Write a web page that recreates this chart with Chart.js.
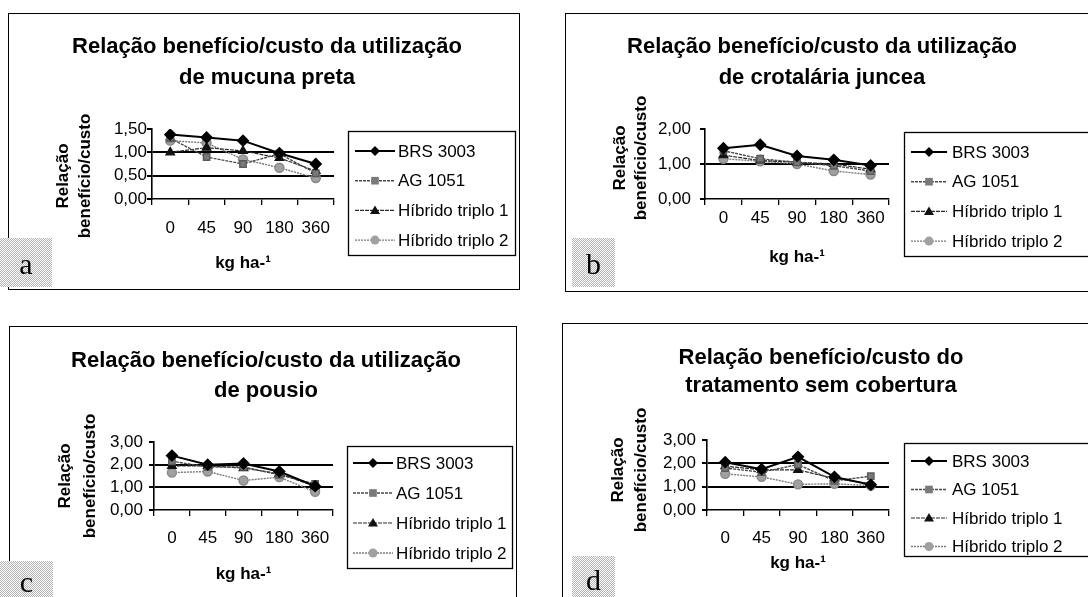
<!DOCTYPE html>
<html lang="pt-BR">
<head>
<meta charset="utf-8">
<title>Relação benefício/custo</title>
<script src="https://cdn.jsdelivr.net/npm/chart.js@4.4.1/dist/chart.umd.min.js"></script>
<style>
  html, body { margin: 0; padding: 0; background: #fff; }
  body { position: relative; width: 1088px; height: 597px; overflow: hidden; }
  .painel { position: absolute; border: 1px solid #000; box-sizing: border-box; }
  .grafico { position: absolute; }
  .letra {
    position: absolute;
    background-image: repeating-conic-gradient(#b4b4b4 0 25%, #fff 0 50%);
    background-size: 2px 2px;
    font-family: "Liberation Serif", "Times New Roman", serif;
    font-size: 30px;
    color: #000;
    display: flex;
    justify-content: center;
    align-items: flex-end;
    padding-bottom: 6px;
    box-sizing: border-box;
  }
</style>
</head>
<body>

<div class="painel" style="left:8px; top:13px; width:512px; height:277px;"></div>
<div class="painel" style="left:565px; top:13px; width:540px; height:279px;"></div>
<div class="painel" style="left:9px; top:326px; width:508px; height:280px;"></div>
<div class="painel" style="left:562px; top:323px; width:545px; height:280px;"></div>

<canvas id="grafico-a" class="grafico" width="510" height="275" style="left:9px; top:14px;"></canvas>
<canvas id="grafico-b" class="grafico" width="538" height="277" style="left:566px; top:14px;"></canvas>
<canvas id="grafico-c" class="grafico" width="506" height="270" style="left:10px; top:327px;"></canvas>
<canvas id="grafico-d" class="grafico" width="541" height="273" style="left:563px; top:324px;"></canvas>

<div class="letra" style="left:0px; top:238px; width:52px; height:49px;">a</div>
<div class="letra" style="left:572px; top:238px; width:43px; height:49px;">b</div>
<div class="letra" style="left:0px; top:561px; width:53px; height:40px; padding-bottom:2px;">c</div>
<div class="letra" style="left:572px; top:556px; width:43px; height:45px; padding-bottom:4px;">d</div>

<script>
// doses de N (kg ha-1)
const doses = ['0', '45', '90', '180', '360'];
const cultivares = ['BRS 3003', 'AG 1051', 'Híbrido triplo 1', 'Híbrido triplo 2'];

// a - mucuna preta
const mucunaBrs = [1.38, 1.32, 1.25, 0.98, 0.75];
const mucunaAg = [1.30, 0.90, 0.75, 0.97, 0.55];
const mucunaH1 = [1.00, 1.10, 1.03, 0.88, 0.60];
const mucunaH2 = [1.25, 1.20, 0.85, 0.67, 0.45];

// b - crotalária juncea
const crotalariaBrs = [1.45, 1.55, 1.23, 1.12, 0.96];
const crotalariaAg = [1.38, 1.15, 1.05, 0.95, 0.80];
const crotalariaH1 = [1.25, 1.10, 1.05, 1.00, 0.85];
const crotalariaH2 = [1.15, 1.08, 1.00, 0.80, 0.70];

// c - pousio
const pousioBrs = [2.40, 2.00, 2.05, 1.70, 1.05];
const pousioAg = [2.15, 1.90, 1.90, 1.55, 1.15];
const pousioH1 = [1.95, 1.95, 1.85, 1.60, 1.05];
const pousioH2 = [1.65, 1.70, 1.30, 1.45, 0.80];

// d - sem cobertura
const semCoberturaBrs = [2.05, 1.75, 2.28, 1.42, 1.08];
const semCoberturaAg = [1.80, 1.62, 1.95, 1.25, 1.45];
const semCoberturaH1 = [1.88, 1.72, 1.72, 1.35, 1.12];
const semCoberturaH2 = [1.55, 1.42, 1.10, 1.12, 1.05];

const FONTE = '"Liberation Sans", Arial, sans-serif';

const estilos = [
    { borderColor: '#000', borderWidth: 2, borderDash: [], pointStyle: 'rectRot', pointRadius: 5, pointBackgroundColor: '#000', pointBorderColor: '#000' },
    { borderColor: '#4a4a4a', borderWidth: 1.4, borderDash: [3, 1], pointStyle: 'rect', pointRadius: 4.5, pointBackgroundColor: '#7a7a7a', pointBorderColor: '#5a5a5a' },
    { borderColor: '#2a2a2a', borderWidth: 1.2, borderDash: [4, 1], pointStyle: 'triangle', pointRadius: 5, pointBackgroundColor: '#111', pointBorderColor: '#111' },
    { borderColor: '#7a7a7a', borderWidth: 1.4, borderDash: [2, 1], pointStyle: 'circle', pointRadius: 4.5, pointBackgroundColor: '#a0a0a0', pointBorderColor: '#888' }
];

function desenharMarcador(ctx, estilo, x, y, r, cor) {
    ctx.save();
    ctx.fillStyle = cor;
    ctx.beginPath();
    if (estilo === 'rectRot') {
        ctx.moveTo(x, y - r); ctx.lineTo(x + r, y); ctx.lineTo(x, y + r); ctx.lineTo(x - r, y);
    } else if (estilo === 'rect') {
        const s = r * 0.85;
        ctx.rect(x - s, y - s, 2 * s, 2 * s);
    } else if (estilo === 'triangle') {
        ctx.moveTo(x, y - r); ctx.lineTo(x + r, y + r * 0.7); ctx.lineTo(x - r, y + r * 0.7);
    } else {
        ctx.arc(x, y, r, 0, Math.PI * 2);
    }
    ctx.closePath();
    ctx.fill();
    ctx.restore();
}

// titulo do eixo y (duas linhas) e caixa de legenda
const extrasPainel = {
    id: 'extrasPainel',
    afterDraw(chart, args, opts) {
        const ctx = chart.ctx;
        ctx.save();
        ctx.fillStyle = '#000';
        ctx.font = 'bold 17px ' + FONTE;
        ctx.textAlign = 'center';
        ctx.textBaseline = 'middle';
        opts.tituloY.forEach((linha, i) => {
            ctx.save();
            ctx.translate(opts.eixoY.x[i], opts.eixoY.y);
            ctx.rotate(-Math.PI / 2);
            ctx.fillText(linha, 0, 0);
            ctx.restore();
        });

        const L = opts.legenda;
        ctx.lineWidth = 1.3;
        ctx.strokeStyle = '#000';
        ctx.strokeRect(L.x + 0.5, L.y + 0.5, L.w, L.h);
        ctx.font = '17px ' + FONTE;
        ctx.textAlign = 'left';
        chart.data.datasets.forEach((ds, i) => {
            const y = L.y + L.primeira + i * L.passo;
            ctx.save();
            ctx.strokeStyle = ds.borderColor;
            ctx.lineWidth = ds.borderWidth;
            ctx.setLineDash(ds.borderDash || []);
            ctx.beginPath();
            ctx.moveTo(L.x + L.linha0, y);
            ctx.lineTo(L.x + L.linha1, y);
            ctx.stroke();
            ctx.restore();
            desenharMarcador(ctx, ds.pointStyle, L.x + (L.linha0 + L.linha1) / 2, y, ds.pointRadius, ds.pointBackgroundColor);
            ctx.fillStyle = '#000';
            ctx.fillText(ds.label, L.x + L.texto, y + 1);
        });
        ctx.restore();
    }
};

const paineis = [
    {
        id: 'grafico-a',
        titulo: ['Relação benefício/custo da utilização', 'de mucuna preta'],
        series: [mucunaBrs, mucunaAg, mucunaH1, mucunaH2],
        yMax: 1.5, passo: 0.5, grades: [0.5, 1],
        area: { l: 143, r: 325, t: 115, b: 185 },
        tituloCx: 258, tituloY1: 33, tituloLh: 31,
        rotuloX: 29, tituloX: 249, vaoY: 5,
        eixoY: { x: [54, 76], y: 162 },
        legenda: { x: 339, y: 117, w: 167, h: 124, primeira: 20, passo: 29.7, linha0: 7, linha1: 47, texto: 50 }
    },
    {
        id: 'grafico-b',
        titulo: ['Relação benefício/custo da utilização', 'de crotalária juncea'],
        series: [crotalariaBrs, crotalariaAg, crotalariaH1, crotalariaH2],
        yMax: 2, passo: 1, grades: [1],
        area: { l: 139, r: 323, t: 115, b: 185 },
        tituloCx: 256, tituloY1: 33, tituloLh: 31,
        rotuloX: 19, tituloX: 243, vaoY: 14,
        eixoY: { x: [54, 75], y: 144 },
        legenda: { x: 338, y: 118, w: 220, h: 124, primeira: 20, passo: 29.7, linha0: 7, linha1: 43, texto: 48 }
    },
    {
        id: 'grafico-c',
        titulo: ['Relação benefício/custo da utilização', 'de pousio'],
        series: [pousioBrs, pousioAg, pousioH1, pousioH2],
        yMax: 3, passo: 1, grades: [1, 2],
        area: { l: 144, r: 323, t: 115, b: 183 },
        tituloCx: 256, tituloY1: 34, tituloLh: 30,
        rotuloX: 28, tituloX: 247, vaoY: 11,
        eixoY: { x: [55, 80], y: 149 },
        legenda: { x: 337, y: 119, w: 165, h: 122, primeira: 17, passo: 30, linha0: 6, linha1: 46, texto: 49 }
    },
    {
        id: 'grafico-d',
        titulo: ['Relação benefício/custo do', 'tratamento sem cobertura'],
        series: [semCoberturaBrs, semCoberturaAg, semCoberturaH1, semCoberturaH2],
        yMax: 3, passo: 1, grades: [1, 2],
        area: { l: 144, r: 326, t: 116, b: 186 },
        tituloCx: 258, tituloY1: 34, tituloLh: 28,
        rotuloX: 28, tituloX: 239, vaoY: 11,
        eixoY: { x: [55, 78], y: 146 },
        legenda: { x: 341, y: 119, w: 220, h: 113, primeira: 18, passo: 28.5, linha0: 7, linha1: 43, texto: 48 }
    }
];

function formatarValor(v) {
    return Number(v).toFixed(2).replace('.', ',');
}

paineis.forEach(p => {
    const canvas = document.getElementById(p.id);
    const W = canvas.width, H = canvas.height;
    const padL = Math.max(0, 2 * p.tituloCx - W);
    const padR = Math.max(0, W - 2 * p.tituloCx);
    const tituloPadTop = p.tituloY1 - p.tituloLh / 2;
    const tituloPadBottom = p.area.t - tituloPadTop - 2 * p.tituloLh;

    new Chart(canvas, {
        type: 'line',
        data: {
            labels: doses,
            datasets: p.series.map((valores, i) => ({
                label: cultivares[i],
                data: valores,
                ...estilos[i],
                pointHoverRadius: estilos[i].pointRadius,
                tension: 0,
                fill: false
            }))
        },
        options: {
            responsive: false,
            animation: false,
            devicePixelRatio: 1,
            layout: { padding: { left: padL, right: padR, top: 0, bottom: 0 } },
            plugins: {
                legend: { display: false },
                tooltip: { enabled: false },
                title: {
                    display: true,
                    text: p.titulo,
                    color: '#000',
                    font: { family: FONTE, size: 22, weight: 'bold', lineHeight: p.tituloLh / 22 },
                    padding: { top: tituloPadTop, bottom: tituloPadBottom }
                },
                extrasPainel: {
                    tituloY: ['Relação', 'benefício/custo'],
                    eixoY: p.eixoY,
                    legenda: p.legenda
                }
            },
            scales: {
                x: {
                    type: 'category',
                    offset: true,
                    afterFit: s => { s.height = H - p.area.b; },
                    grid: { display: true, offset: true, drawOnChartArea: false, drawTicks: true, tickLength: 6, color: '#000', tickColor: '#000', lineWidth: 1.3 },
                    border: { display: true, color: '#000', width: 1.6 },
                    ticks: {
                        color: '#000', font: { family: FONTE, size: 17, lineHeight: 1.2 },
                        padding: p.rotuloX - 16.2, maxRotation: 0, autoSkip: false
                    },
                    title: {
                        display: true, text: 'kg ha-¹', color: '#000',
                        font: { family: FONTE, size: 17, weight: 'bold', lineHeight: 1.2 },
                        padding: { top: 0, bottom: H - p.tituloX - 10.2 }
                    }
                },
                y: {
                    position: 'left',
                    min: 0, max: p.yMax,
                    afterFit: s => { s.width = p.area.l - padL; },
                    grid: {
                        drawTicks: true, tickLength: 5, tickColor: '#000', lineWidth: 2,
                        color: ctx => (ctx.tick && p.grades.includes(ctx.tick.value)) ? '#000' : 'rgba(0,0,0,0)'
                    },
                    border: { display: true, color: '#000', width: 1.6 },
                    ticks: {
                        stepSize: p.passo, color: '#000', padding: p.vaoY - 5,
                        autoSkip: false, maxTicksLimit: 20,
                        font: { family: FONTE, size: 17, lineHeight: 1 },
                        callback: v => formatarValor(v)
                    }
                },
                espaco: {
                    type: 'linear', position: 'right', display: true,
                    afterFit: s => { s.width = W - padR - p.area.r; },
                    grid: { display: false }, border: { display: false }, ticks: { display: false }
                }
            }
        },
        plugins: [extrasPainel]
    });
});
</script>
</body>
</html>
